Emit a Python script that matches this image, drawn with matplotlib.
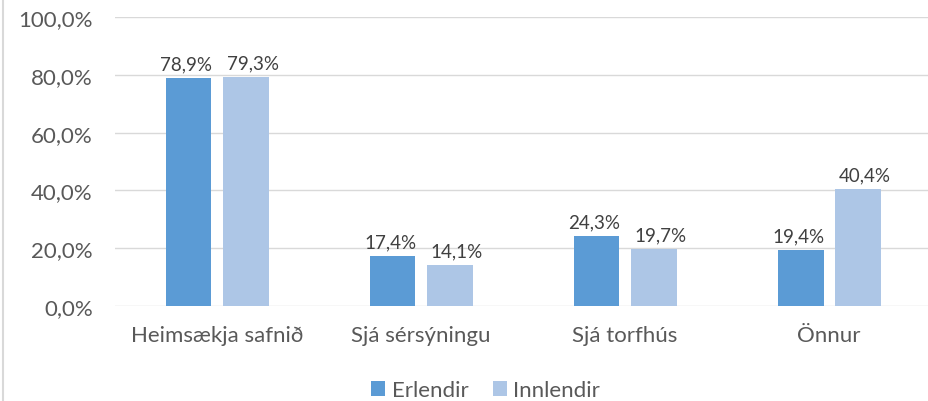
import matplotlib.pyplot as plt
import numpy as np
from matplotlib.lines import Line2D

categories = ["Heimsækja safnið", "Sjá sérsýningu", "Sjá torfhús", "Önnur"]
erlendir = [78.9, 17.4, 24.3, 19.4]
innlendir = [79.3, 14.1, 19.7, 40.4]
series_names = ["Erlendir", "Innlendir"]
yticks = [0, 20, 40, 60, 80, 100]

c_erl = "#5B9BD5"
c_inn = "#ADC6E6"
txt = "#595959"

plt.rcParams['font.family'] = ['Lato', 'DejaVu Sans']

fig = plt.figure(figsize=(9.29, 4.02), dpi=100)
ax = fig.add_axes([0.1238, 0.2363, 0.8785, 0.7189])

x = np.arange(len(categories))
w = 0.225
off = 0.14
b1 = ax.bar(x - off, erlendir, w, color=c_erl, label=series_names[0], zorder=3)
b2 = ax.bar(x + off, innlendir, w, color=c_inn, label=series_names[1], zorder=3)

# small sideways nudge like the original labels (keeps neighbours apart)
for bars, vals, dx in ((b1, erlendir, -0.012), (b2, innlendir, 0.035)):
    for b, v in zip(bars, vals):
        ax.text(b.get_x() + b.get_width() / 2 + dx, v + 2.0, f"{v:.1f}%".replace(".", ","),
                ha="center", va="bottom", fontsize=13.5, color="#404040")

ax.set_xlim(-0.5, len(categories) - 0.5)
ax.set_ylim(0, 100)
ax.set_yticks(yticks)
ax.set_yticklabels([f"{t:.1f}%".replace(".", ",") for t in yticks])
ax.set_xticks(x)
ax.set_xticklabels(categories)
ax.tick_params(axis="both", length=0, labelsize=16, colors=txt)
ax.tick_params(axis="y", pad=16)
ax.tick_params(axis="x", pad=14)
ax.grid(axis="y", color="#D9D9D9", linewidth=1, zorder=0)
for s in ax.spines.values():
    s.set_visible(False)

fig.add_artist(Line2D([3 / 929, 3 / 929], [0, 1], color="#D9D9D9", linewidth=1.5))

leg = fig.legend(loc="center", bbox_to_anchor=(0.523, 0.027), ncol=2, frameon=False,
                 fontsize=16, handlelength=0.62, handleheight=0.62, handletextpad=0.3,
                 columnspacing=1.1)
for t in leg.get_texts():
    t.set_color(txt)

fig.savefig("out.png", dpi=100)
